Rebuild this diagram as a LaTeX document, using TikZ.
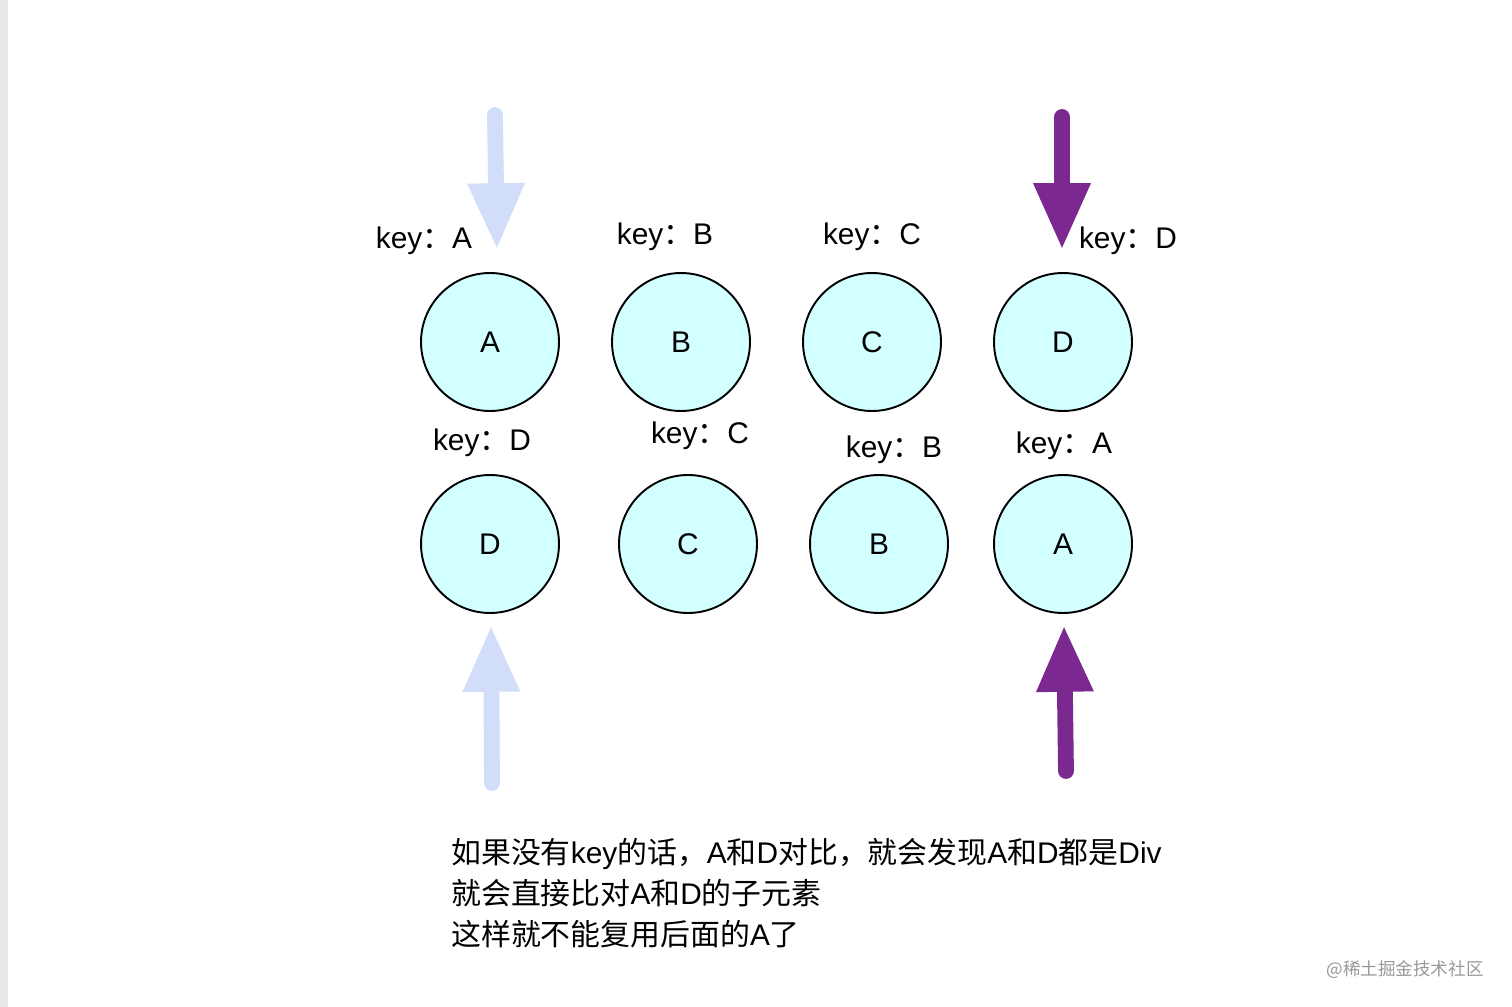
\documentclass[tikz,border=0pt]{standalone}
\usepackage{fontspec}
\setmainfont{Liberation Sans}
\newfontfamily\cjk{Noto Sans CJK SC}
\usetikzlibrary{arrows.meta}
\definecolor{ballfill}{HTML}{D2FFFF}
\definecolor{lightarrow}{HTML}{D2DDF9}
\definecolor{darkarrow}{HTML}{7C2891}
\definecolor{stripgray}{HTML}{E9E9E9}
\newcommand{\keyof}[1]{key{\cjk ：}#1}

\begin{document}
\begin{tikzpicture}[x=0.02cm,y=-0.02cm,
  ball/.style={circle,draw=black,line width=1.1pt,fill=ballfill,minimum size=2.76cm,inner sep=0pt,font=\fontsize{17}{20}\selectfont},
  keylabel/.style={font=\fontsize{17}{20}\selectfont},
  bigarrow/.style={line width=9pt,line cap=round,-{Triangle[length=38pt,width=30pt]}}]
  \useasboundingbox[fill=white] (0,0) rectangle (1512,1007);
  \fill[stripgray] (0,0) rectangle (8,1007);
  % old children
  \node[ball] (a1) at (490,342){A};
  \node[ball] (b1) at (681,342){B};
  \node[ball] (c1) at (872,342){C};
  \node[ball] (d1) at (1063,342){D};
  % new children
  \node[ball] (d2) at (490,544){D};
  \node[ball] (c2) at (688,544){C};
  \node[ball] (b2) at (879,544){B};
  \node[ball] (a2) at (1063,544){A};
  \node[keylabel] (ka1) at (424,241){\keyof{A}};
  \node[keylabel] (kb1) at (665,237){\keyof{B}};
  \node[keylabel] (kc1) at (872,237){\keyof{C}};
  \node[keylabel] (kd1) at (1128,241){\keyof{D}};
  \node[keylabel] (kd2) at (482,443){\keyof{D}};
  \node[keylabel] (kc2) at (700,436){\keyof{C}};
  \node[keylabel] (kb2) at (894,450){\keyof{B}};
  \node[keylabel] (ka2) at (1064,446){\keyof{A}};
  % head and tail pointers
  \coordinate (p1) at (495,115);
  \coordinate (p1e) at (497,250);
  \coordinate (p2) at (1062,117);
  \coordinate (p2e) at (1062,250);
  \coordinate (p3) at (492,783);
  \coordinate (p3e) at (491,625);
  \coordinate (p4) at (1066,771);
  \coordinate (p4e) at (1064,625);
  \draw[bigarrow,lightarrow] (p1)--(p1e);
  \draw[bigarrow,darkarrow] (p2)--(p2e);
  \draw[bigarrow,lightarrow] (p3)--(p3e);
  \draw[bigarrow,darkarrow] (p4)--(p4e);
  \node[anchor=north west,align=left,inner sep=0pt,font=\fontsize{17}{23.3}\selectfont] (note) at (451,838){{\cjk 如果没有}key{\cjk 的话，}A{\cjk 和}D{\cjk 对比，就会发现}A{\cjk 和}D{\cjk 都是}Div\\{\cjk 就会直接比对}A{\cjk 和}D{\cjk 的子元素}\\{\cjk 这样就不能复用后面的}A{\cjk 了}};
  \node[text=black!40,font=\cjk\fontsize{10}{12}\selectfont] (mark) at (1405,970){@稀土掘金技术社区};
\end{tikzpicture}
\end{document}
